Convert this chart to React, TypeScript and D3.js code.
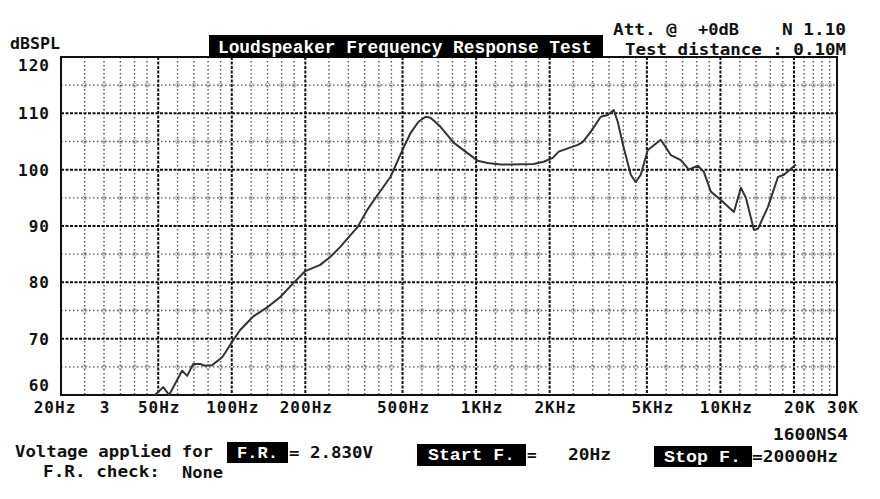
import * as d3 from 'd3'

const freqHz = [48.5, 52.4, 55.4, 62.6, 65.7, 69.5, 74.2, 77.8, 83.1, 91.4, 99.5, 108, 122, 140, 158, 179, 200, 230, 253, 278, 327, 359, 395, 446, 500, 539, 581, 621, 651, 715, 809, 905, 1014, 1114, 1260, 1384, 1720, 1890, 2058, 2178, 2605, 2730, 2944, 3236, 3457, 3658, 3798, 4020, 4296, 4504, 4721, 5043, 5702, 6266, 6888, 7426, 8087, 8554, 9136, 10042, 11354, 12130, 12716, 13713, 14240, 15650, 17200, 18200, 20380]
const splDb = [60.0, 61.4, 60.0, 64.3, 63.4, 65.5, 65.5, 65.2, 65.3, 66.7, 69.2, 71.5, 73.9, 75.6, 77.4, 79.9, 82.0, 83.1, 84.5, 86.3, 89.8, 92.9, 95.5, 98.7, 103.5, 106.5, 108.5, 109.4, 109.2, 107.6, 104.8, 103.2, 101.6, 101.2, 100.9, 100.9, 101.0, 101.4, 102.1, 103.2, 104.4, 104.9, 106.7, 109.4, 109.7, 110.6, 108.5, 103.9, 99.1, 97.8, 99.1, 103.5, 105.3, 102.6, 101.7, 100.0, 100.7, 99.6, 96.1, 94.6, 92.5, 96.8, 95.0, 89.3, 89.5, 93.4, 98.7, 99.1, 100.9]

const majorFreqs = [50, 100, 200, 500, 1000, 2000, 5000, 10000, 20000]
const minorFreqs = [25, 30, 35, 40, 45, 60, 70, 80, 90, 120, 140, 160, 180, 250, 300, 350, 400, 450, 600, 700, 800, 900, 1200, 1400, 1600, 1800, 2500, 3000, 3500, 4000, 4500, 6000, 7000, 8000, 9000, 12000, 14000, 16000, 18000, 22000, 24000, 26000, 28000]
const majorDb = [70, 80, 90, 100, 110]
const minorDb = [65, 75, 85, 95, 105, 115]
const yTicks = [120, 110, 100, 90, 80, 70, 60]
const xTickFreqs = [20, 30, 50, 100, 200, 500, 1000, 2000, 5000, 10000, 20000, 30000]
const xTickLabels = ['20Hz', '3', '50Hz', '100Hz', '200Hz', '500Hz', '1KHz', '2KHz', '5KHz', '10KHz', '20K', '30K']

const W = 880
const H = 499
const mono = "'DejaVu Sans Mono', monospace"
const serifMono = "'Liberation Mono', monospace"

export default function App() {
  const x = d3.scaleLog().domain([20, 30000]).range([61, 837])
  const y = d3.scaleLinear().domain([60, 120]).range([395, 57])

  const pts: [number, number][] = freqHz.map((f, i) => [f, splDb[i]])
  const line = d3.line<[number, number]>()
    .x(d => x(d[0]))
    .y(d => y(d[1]))

  const txt = { fontFamily: mono, fontWeight: 700, fontSize: 16, fill: '#111' } as const

  return (
    <svg width={W} height={H} style={{ position: 'absolute', left: 0, top: 0, background: '#fff' }}>
      {/* minor grid */}
      {minorFreqs.map(f => (
        <line key={'mv' + f} x1={x(f)} x2={x(f)} y1={57} y2={395}
          stroke="#555" strokeWidth={1.4} strokeDasharray="1.5,2.5" />
      ))}
      {minorDb.map(v => (
        <line key={'mh' + v} x1={61} x2={837} y1={y(v)} y2={y(v)}
          stroke="#555" strokeWidth={1.4} strokeDasharray="1.5,2.5" />
      ))}
      {minorDb.map(v => minorFreqs.map(f => (
        <circle key={'c' + v + '-' + f} cx={x(f)} cy={y(v)} r={2}
          fill="none" stroke="#999" strokeWidth={0.8} />
      )))}
      {/* major grid */}
      {majorFreqs.map(f => (
        <line key={'Mv' + f} x1={x(f)} x2={x(f)} y1={57} y2={395}
          stroke="#111" strokeWidth={2} strokeDasharray="3,1.5" />
      ))}
      {majorDb.map(v => (
        <line key={'Mh' + v} x1={61} x2={837} y1={y(v)} y2={y(v)}
          stroke="#111" strokeWidth={2} strokeDasharray="3,1.5" />
      ))}
      <rect x={61} y={57} width={776} height={338} fill="none" stroke="#111" strokeWidth={2} />

      {/* curve */}
      <path d={line(pts) ?? ''} fill="none" stroke="#333" strokeWidth={2} strokeLinejoin="round" />

      {/* title block */}
      <rect x={209} y={35} width={394} height={23} fill="#000" />
      <text x={218} y={53} textLength={374} lengthAdjust="spacingAndGlyphs"
        style={{ fontFamily: serifMono, fontWeight: 700, fontSize: 18, fill: '#fff' }}>
        Loudspeaker Frequency Response Test
      </text>
      <text x={613} y={35} textLength={64} lengthAdjust="spacingAndGlyphs" style={txt}>Att. @</text>
      <text x={698} y={35} textLength={41} lengthAdjust="spacingAndGlyphs" style={txt}>+0dB</text>
      <text x={782} y={35} textLength={64} lengthAdjust="spacingAndGlyphs" style={txt}>N 1.10</text>
      <text x={625} y={55} textLength={221} lengthAdjust="spacingAndGlyphs" style={txt}>Test distance : 0.10M</text>

      {/* y axis */}
      <text x={10} y={49} textLength={50} lengthAdjust="spacingAndGlyphs" style={{ ...txt, fontSize: 15 }}>dBSPL</text>
      {yTicks.map(v => (
        <text key={'yt' + v} x={50} y={y(v) + (v === 120 ? 14 : v === 60 ? -4 : 6)}
          textAnchor="end" letterSpacing={1} style={txt}>{v}</text>
      ))}

      {/* x axis */}
      {xTickFreqs.map((f, i) => (
        <text key={'xt' + f} x={x(f) + (f === 20 ? -6 : f >= 1000 ? 6 : 1)} y={413}
          textAnchor="middle" letterSpacing={1} style={txt}>{xTickLabels[i]}</text>
      ))}
      <text x={773} y={440} textLength={75} lengthAdjust="spacingAndGlyphs" style={txt}>1600NS4</text>

      {/* bottom info */}
      <text x={15} y={457} textLength={198} lengthAdjust="spacingAndGlyphs" style={txt}>Voltage applied for</text>
      <rect x={227} y={442} width={61} height={21} fill="#000" />
      <text x={237} y={458} textLength={41} lengthAdjust="spacingAndGlyphs"
        style={{ ...txt, fontFamily: serifMono, fill: '#fff' }}>F.R.</text>
      <text x={289} y={458} textLength={84} lengthAdjust="spacingAndGlyphs" style={txt}>= 2.830V</text>
      <text x={43} y={477} textLength={117} lengthAdjust="spacingAndGlyphs" style={txt}>F.R. check:</text>
      <text x={182} y={478} textLength={41} lengthAdjust="spacingAndGlyphs" style={txt}>None</text>

      <rect x={417} y={444} width={109} height={22} fill="#000" />
      <text x={428} y={460} textLength={87} lengthAdjust="spacingAndGlyphs"
        style={{ ...txt, fontFamily: serifMono, fill: '#fff' }}>Start F.</text>
      <text x={527} y={460} style={txt}>=</text>
      <text x={568} y={460} textLength={43} lengthAdjust="spacingAndGlyphs" style={txt}>20Hz</text>

      <rect x={654} y={446} width={98} height={21} fill="#000" />
      <text x={664} y={462} textLength={77} lengthAdjust="spacingAndGlyphs"
        style={{ ...txt, fontFamily: serifMono, fill: '#fff' }}>Stop F.</text>
      <text x={752} y={462} textLength={86} lengthAdjust="spacingAndGlyphs" style={txt}>=20000Hz</text>
    </svg>
  )
}
